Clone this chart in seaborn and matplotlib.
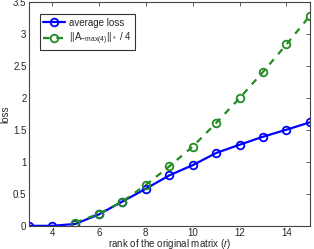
import numpy as np
import pandas as pd
import seaborn as sns
import matplotlib.pyplot as plt

# values
rank_avg = [3, 4, 5, 6, 7, 8, 9, 10, 11, 12, 13, 14, 15]
avg_loss = [0.0, 0.0, 0.03, 0.18, 0.38, 0.58, 0.79, 0.95, 1.14, 1.27, 1.395, 1.505, 1.62]
rank_norm = [5, 6, 7, 8, 9, 10, 11, 12, 13, 14, 15]
norm_loss = [0.05, 0.19, 0.38, 0.64, 0.93, 1.24, 1.61, 2.0, 2.41, 2.84, 3.29]

x_ticks = [4, 6, 8, 10, 12, 14]
y_ticks = [0, 0.5, 1, 1.5, 2, 2.5, 3, 3.5]

sns.set_style("white")
plt.rcParams['font.family'] = ['Liberation Sans', 'DejaVu Sans']
plt.rcParams['mathtext.fontset'] = 'custom'
plt.rcParams['mathtext.rm'] = 'Liberation Sans'
plt.rcParams['mathtext.it'] = 'Liberation Sans:italic'
plt.rcParams['font.size'] = 7

df_avg = pd.DataFrame({"r": rank_avg, "loss": avg_loss})
df_norm = pd.DataFrame({"r": rank_norm, "loss": norm_loss})

fig = plt.figure(figsize=(3.14, 2.49), dpi=100)
ax = fig.add_axes([0.091, 0.093, 0.896, 0.898])

sns.lineplot(data=df_avg, x="r", y="loss", ax=ax, color="#0000ff", lw=1.6,
             marker="o", markersize=5.5, markerfacecolor="none",
             markeredgecolor="#0000ff", markeredgewidth=1.3, label="average loss")
sns.lineplot(data=df_norm, x="r", y="loss", ax=ax, color="#228b22", lw=1.6,
             marker="o", markersize=5.5, markerfacecolor="none",
             markeredgecolor="#228b22", markeredgewidth=1.3,
             label=r"||A$_{\mathrm{-max(4)}}$||$_*$ / 4")
ax.lines[1].set_dashes([3, 3])

ax.set_xlim(3, 15)
ax.set_ylim(0, 3.5)
ax.set_xticks(x_ticks)
ax.set_yticks(y_ticks)
ax.set_yticklabels(["0", "0.5", "1", "1.5", "2", "2.5", "3", "3.5"])
ax.tick_params(direction="in", length=3, width=0.6, top=True, right=True,
               labelsize=7, pad=1.5, color="#444444")
for s in ax.spines.values():
    s.set_color("#444444")
    s.set_linewidth(0.8)

ax.set_xlabel("rank of the original matrix ($\\it{r}$)", fontsize=7, labelpad=-0.5)
ax.set_ylabel("loss", fontsize=7, labelpad=2)

leg = ax.legend(loc="upper left", bbox_to_anchor=(0.022, 0.968), fontsize=7,
                fancybox=False, frameon=True, handlelength=2.3,
                borderpad=0.35, labelspacing=0.3, handletextpad=0.4)
leg.get_frame().set_edgecolor("black")
leg.get_frame().set_linewidth(0.8)

fig.savefig("out.png", dpi=100)
